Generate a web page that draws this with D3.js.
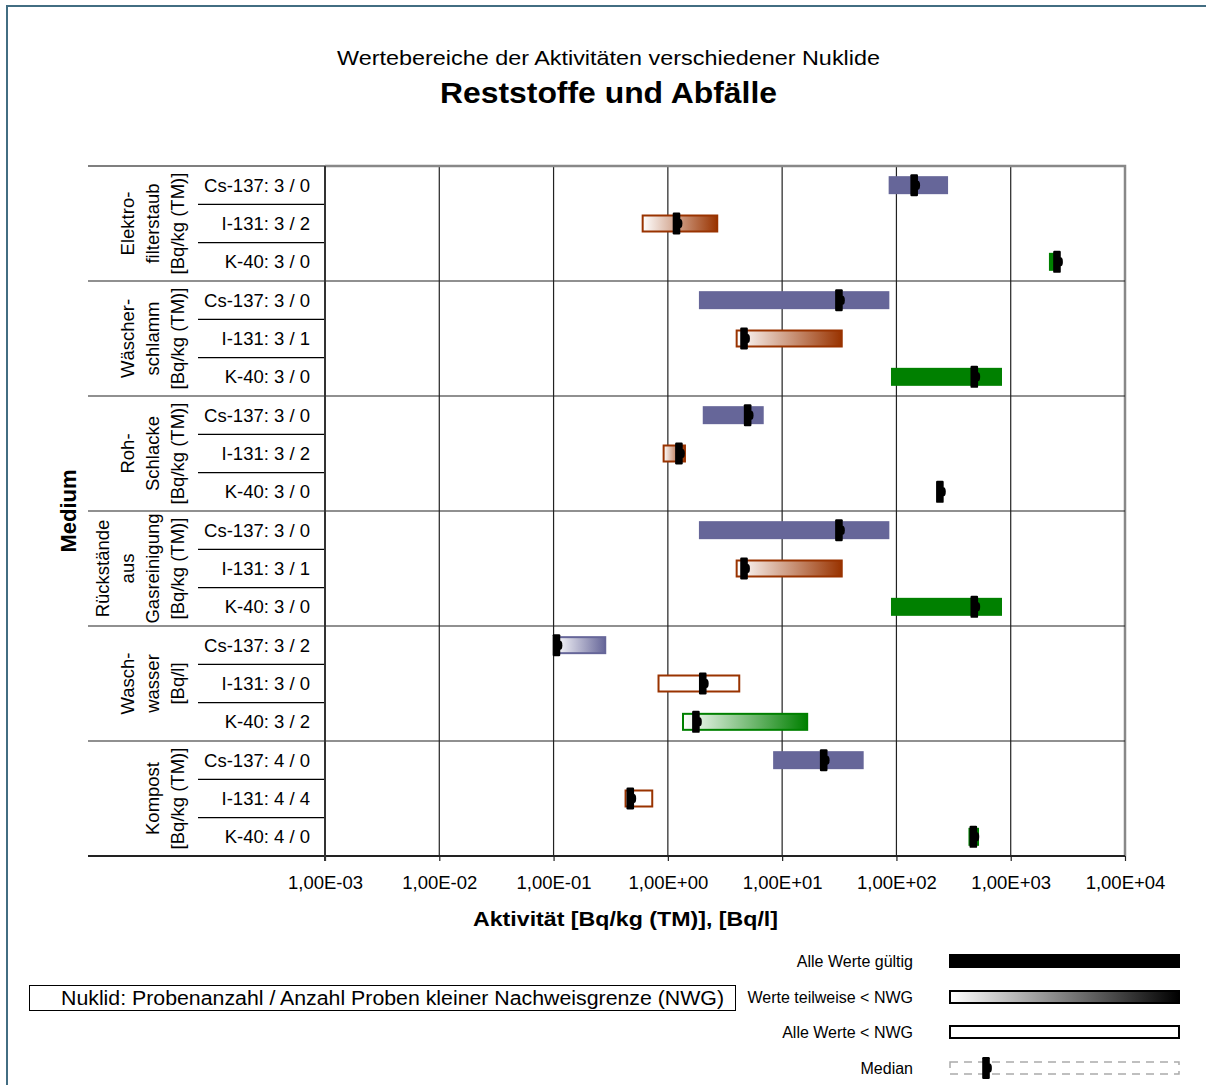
<!DOCTYPE html>
<html>
<head>
<meta charset="utf-8">
<script src="https://cdn.jsdelivr.net/npm/d3@7"></script>
<style>
  html, body { margin: 0; padding: 0; background: #fff; }
  svg { display: block; font-family: "Liberation Sans", Arial, sans-serif; }
</style>
</head>
<body>
<svg id="chart" width="1206" height="1085"></svg>
<script>
// ---- data ----
const groupLabels = [
  ["Elektro-", "filterstaub", "[Bq/kg (TM)]"],
  ["Wäscher-", "schlamm", "[Bq/kg (TM)]"],
  ["Roh-", "Schlacke", "[Bq/kg (TM)]"],
  ["Rückstände", "aus", "Gasreinigung", "[Bq/kg (TM)]"],
  ["Wasch-", "wasser", "[Bq/l]"],
  ["Kompost", "[Bq/kg (TM)]"]
];
const nuclides = ["Cs-137", "I-131", "K-40"];
const nuclideColors = ["#666699", "#993300", "#008000"];

// per row: group-major, nuclide-minor
const sampleCounts = [3, 3, 3,  3, 3, 3,  3, 3, 3,  3, 3, 3,  3, 3, 3,  4, 4, 4];
const belowNWG     = [0, 2, 0,  0, 1, 0,  0, 2, 0,  0, 1, 0,  2, 0, 2,  0, 4, 0];
const validity     = ["all", "partial", "all",  "all", "partial", "all",
                      "all", "partial", "all",  "all", "partial", "all",
                      "partial", "none", "partial",  "all", "none", "all"];
const minValues    = [85.5, 0.59, 2160,   1.87, 3.92, 89.6,   2.02, 0.90, 236,
                      1.87, 3.92, 89.6,   0.100, 0.812, 1.33,  8.34, 0.418, 427];
const maxValues    = [283, 2.76, 2700,    86.7, 33.9, 839,    6.90, 1.44, 244,
                      86.7, 33.9, 839,    0.289, 4.30, 16.9,   51.7, 0.745, 528];
const medianValues = [143, 1.19, 2540,    31.4, 4.64, 480,    4.99, 1.25, 240,
                      31.4, 4.64, 480,    0.106, 2.02, 1.76,   23.1, 0.469, 471];

const tickValues = [1e-3, 1e-2, 1e-1, 1e0, 1e1, 1e2, 1e3, 1e4];

const legendItems = ["Alle Werte gültig", "Werte teilweise < NWG", "Alle Werte < NWG", "Median"];

// ---- layout ----
const svg = d3.select("#chart");
const plotL = 325, plotR = 1125, plotT = 166, plotB = 856;
const labelL = 88, rowLabelL = 198;

const x = d3.scaleLog().domain([1e-3, 1e4]).range([plotL, plotR]);
const rowIdx = d3.range(groupLabels.length * nuclides.length);
const y = d3.scaleBand().domain(rowIdx).range([plotT, plotB]).padding(0);
const groupH = y.bandwidth() * nuclides.length;
const barH = 18;

const defs = svg.append("defs");
nuclideColors.concat(["#000000"]).forEach((c, i) => {
  const g = defs.append("linearGradient").attr("id", "grad" + i)
    .attr("x1", "0%").attr("x2", "100%").attr("y1", "0%").attr("y2", "0%");
  g.append("stop").attr("offset", "0%").attr("stop-color", "#fff");
  g.append("stop").attr("offset", "100%").attr("stop-color", c);
});

// outer frame
svg.append("path").attr("d", "M7,1085V6H1206")
  .attr("fill", "none").attr("stroke", "#426d82").attr("stroke-width", 2);

// titles
svg.append("text").attr("x", 608.5).attr("y", 65).attr("text-anchor", "middle")
  .attr("font-size", 21).attr("textLength", 543).attr("lengthAdjust", "spacingAndGlyphs")
  .text("Wertebereiche der Aktivitäten verschiedener Nuklide");
svg.append("text").attr("x", 608.5).attr("y", 103).attr("text-anchor", "middle")
  .attr("font-size", 30).attr("font-weight", "bold")
  .attr("textLength", 337).attr("lengthAdjust", "spacingAndGlyphs")
  .text("Reststoffe und Abfälle");

// vertical grid at each decade
svg.append("g").selectAll("line").data(tickValues.slice(1, -1)).join("line")
  .attr("x1", d => x(d)).attr("x2", d => x(d))
  .attr("y1", plotT).attr("y2", plotB)
  .attr("stroke", "#222").attr("stroke-width", 1.2);

// plot frame: grey top/right
svg.append("path").attr("d", `M${plotL},${plotT}H${plotR}V${plotB}`)
  .attr("fill", "none").attr("stroke", "#888").attr("stroke-width", 2.5);

// row separators inside groups (label column only)
const rowLines = rowIdx.filter(i => i % nuclides.length !== 0);
svg.append("g").selectAll("line").data(rowLines).join("line")
  .attr("x1", rowLabelL).attr("x2", plotL)
  .attr("y1", d => y(d)).attr("y2", d => y(d))
  .attr("stroke", "#000").attr("stroke-width", 1.2);

// group separators (label area + plot)
const groupLines = d3.range(1, groupLabels.length);
svg.append("g").selectAll("line").data(groupLines).join("line")
  .attr("x1", labelL).attr("x2", plotR)
  .attr("y1", d => y(d * nuclides.length)).attr("y2", d => y(d * nuclides.length))
  .attr("stroke", "#222").attr("stroke-width", 1.2);
svg.append("line").attr("x1", labelL).attr("x2", plotL).attr("y1", plotT).attr("y2", plotT)
  .attr("stroke", "#000").attr("stroke-width", 1.2);

// row labels
svg.append("g").selectAll("text").data(rowIdx).join("text")
  .attr("x", 310).attr("y", d => y(d) + y.bandwidth() / 2 + 6.5)
  .attr("text-anchor", "end").attr("font-size", 18.5)
  .text(d => `${nuclides[d % nuclides.length]}: ${sampleCounts[d]} / ${belowNWG[d]}`);

// group labels, rotated
groupLabels.forEach((lines, gi) => {
  const cy = plotT + gi * groupH + groupH / 2;
  const g = svg.append("g").attr("transform", `translate(184,${cy}) rotate(-90)`);
  lines.forEach((t, li) => {
    g.append("text").attr("x", 0).attr("y", -(lines.length - 1 - li) * 25)
      .attr("text-anchor", "middle").attr("font-size", 18.5).text(t);
  });
});

// "Medium"
svg.append("text").attr("transform", `translate(76,${(plotT + plotB) / 2}) rotate(-90)`)
  .attr("text-anchor", "middle").attr("font-size", 22).attr("font-weight", "bold").text("Medium");

// range bars
const bars = svg.append("g");
rowIdx.forEach(i => {
  const ci = i % nuclides.length;
  const col = nuclideColors[ci];
  const cy = y(i) + y.bandwidth() / 2;
  const x0 = x(minValues[i]), x1 = x(maxValues[i]);
  const v = validity[i];
  if (v === "all") {
    bars.append("rect").attr("x", x0).attr("y", cy - barH / 2)
      .attr("width", Math.max(0, x1 - x0)).attr("height", barH)
      .attr("fill", col);
  } else {
    bars.append("rect").attr("x", x0 + 1).attr("y", cy - barH / 2 + 1)
      .attr("width", Math.max(0, x1 - x0 - 2)).attr("height", barH - 2)
      .attr("fill", v === "partial" ? `url(#grad${ci})` : "#fff")
      .attr("stroke", col).attr("stroke-width", 2);
  }
});

// median markers
function medianMarker(sel, mx, cy) {
  sel.append("rect").attr("x", mx - 3.8).attr("y", cy - 11)
    .attr("width", 7.6).attr("height", 22).attr("rx", 1.2).attr("fill", "#000");
  sel.append("ellipse").attr("cx", mx + 3.6).attr("cy", cy)
    .attr("rx", 2.3).attr("ry", 4.5).attr("fill", "#000");
}
const meds = svg.append("g");
rowIdx.forEach(i => medianMarker(meds, x(medianValues[i]), y(i) + y.bandwidth() / 2));

// bottom axis
const axis = d3.axisBottom(x).tickValues(tickValues).tickSize(5)
  .tickFormat(d => {
    const e = Math.round(Math.log10(d));
    return "1,00E" + (e < 0 ? "-" : "+") + String(Math.abs(e)).padStart(2, "0");
  });
const ax = svg.append("g").attr("transform", `translate(0,${plotB})`).call(axis);
ax.select(".domain").remove();
ax.selectAll(".tick line").attr("stroke", "#222").attr("stroke-width", 1.2);
ax.selectAll(".tick text").attr("y", 33).attr("dy", 0)
  .attr("font-size", 18.5).attr("font-family", "Liberation Sans, Arial, sans-serif").attr("fill", "#000");

// axis lines (left + bottom)
svg.append("line").attr("x1", labelL).attr("x2", plotR).attr("y1", plotB).attr("y2", plotB)
  .attr("stroke", "#222").attr("stroke-width", 2);
svg.append("line").attr("x1", plotL).attr("x2", plotL).attr("y1", plotT).attr("y2", plotB + 5)
  .attr("stroke", "#333").attr("stroke-width", 2);

// axis title
svg.append("text").attr("x", 625.5).attr("y", 926).attr("text-anchor", "middle")
  .attr("font-size", 21).attr("font-weight", "bold")
  .attr("textLength", 305).attr("lengthAdjust", "spacingAndGlyphs")
  .text("Aktivität [Bq/kg (TM)], [Bq/l]");

// note box
svg.append("rect").attr("x", 29.5).attr("y", 985.5).attr("width", 706).attr("height", 25)
  .attr("fill", "#fff").attr("stroke", "#000").attr("stroke-width", 1);
svg.append("text").attr("x", 61).attr("y", 1005)
  .attr("font-size", 19.5).attr("textLength", 663).attr("lengthAdjust", "spacingAndGlyphs")
  .text("Nuklid: Probenanzahl / Anzahl Proben kleiner Nachweisgrenze (NWG)");

// legend
const legY = [961, 997, 1032, 1068];
const leg = svg.append("g");
legendItems.forEach((t, i) => {
  leg.append("text").attr("x", 913).attr("y", legY[i] + 5.5).attr("text-anchor", "end")
    .attr("font-size", 16).text(t);
});
leg.append("rect").attr("x", 949).attr("y", legY[0] - 7).attr("width", 231).attr("height", 14).attr("fill", "#000");
leg.append("rect").attr("x", 950).attr("y", legY[1] - 6).attr("width", 229).attr("height", 12)
  .attr("fill", "url(#grad3)").attr("stroke", "#000").attr("stroke-width", 2);
leg.append("rect").attr("x", 950).attr("y", legY[2] - 6).attr("width", 229).attr("height", 12)
  .attr("fill", "#fff").attr("stroke", "#000").attr("stroke-width", 2);
leg.append("rect").attr("x", 950).attr("y", legY[3] - 6).attr("width", 229).attr("height", 12)
  .attr("fill", "none").attr("stroke", "#aaa").attr("stroke-width", 1.5).attr("stroke-dasharray", "8,6");
medianMarker(leg, 986, legY[3]);
</script>
</body>
</html>
